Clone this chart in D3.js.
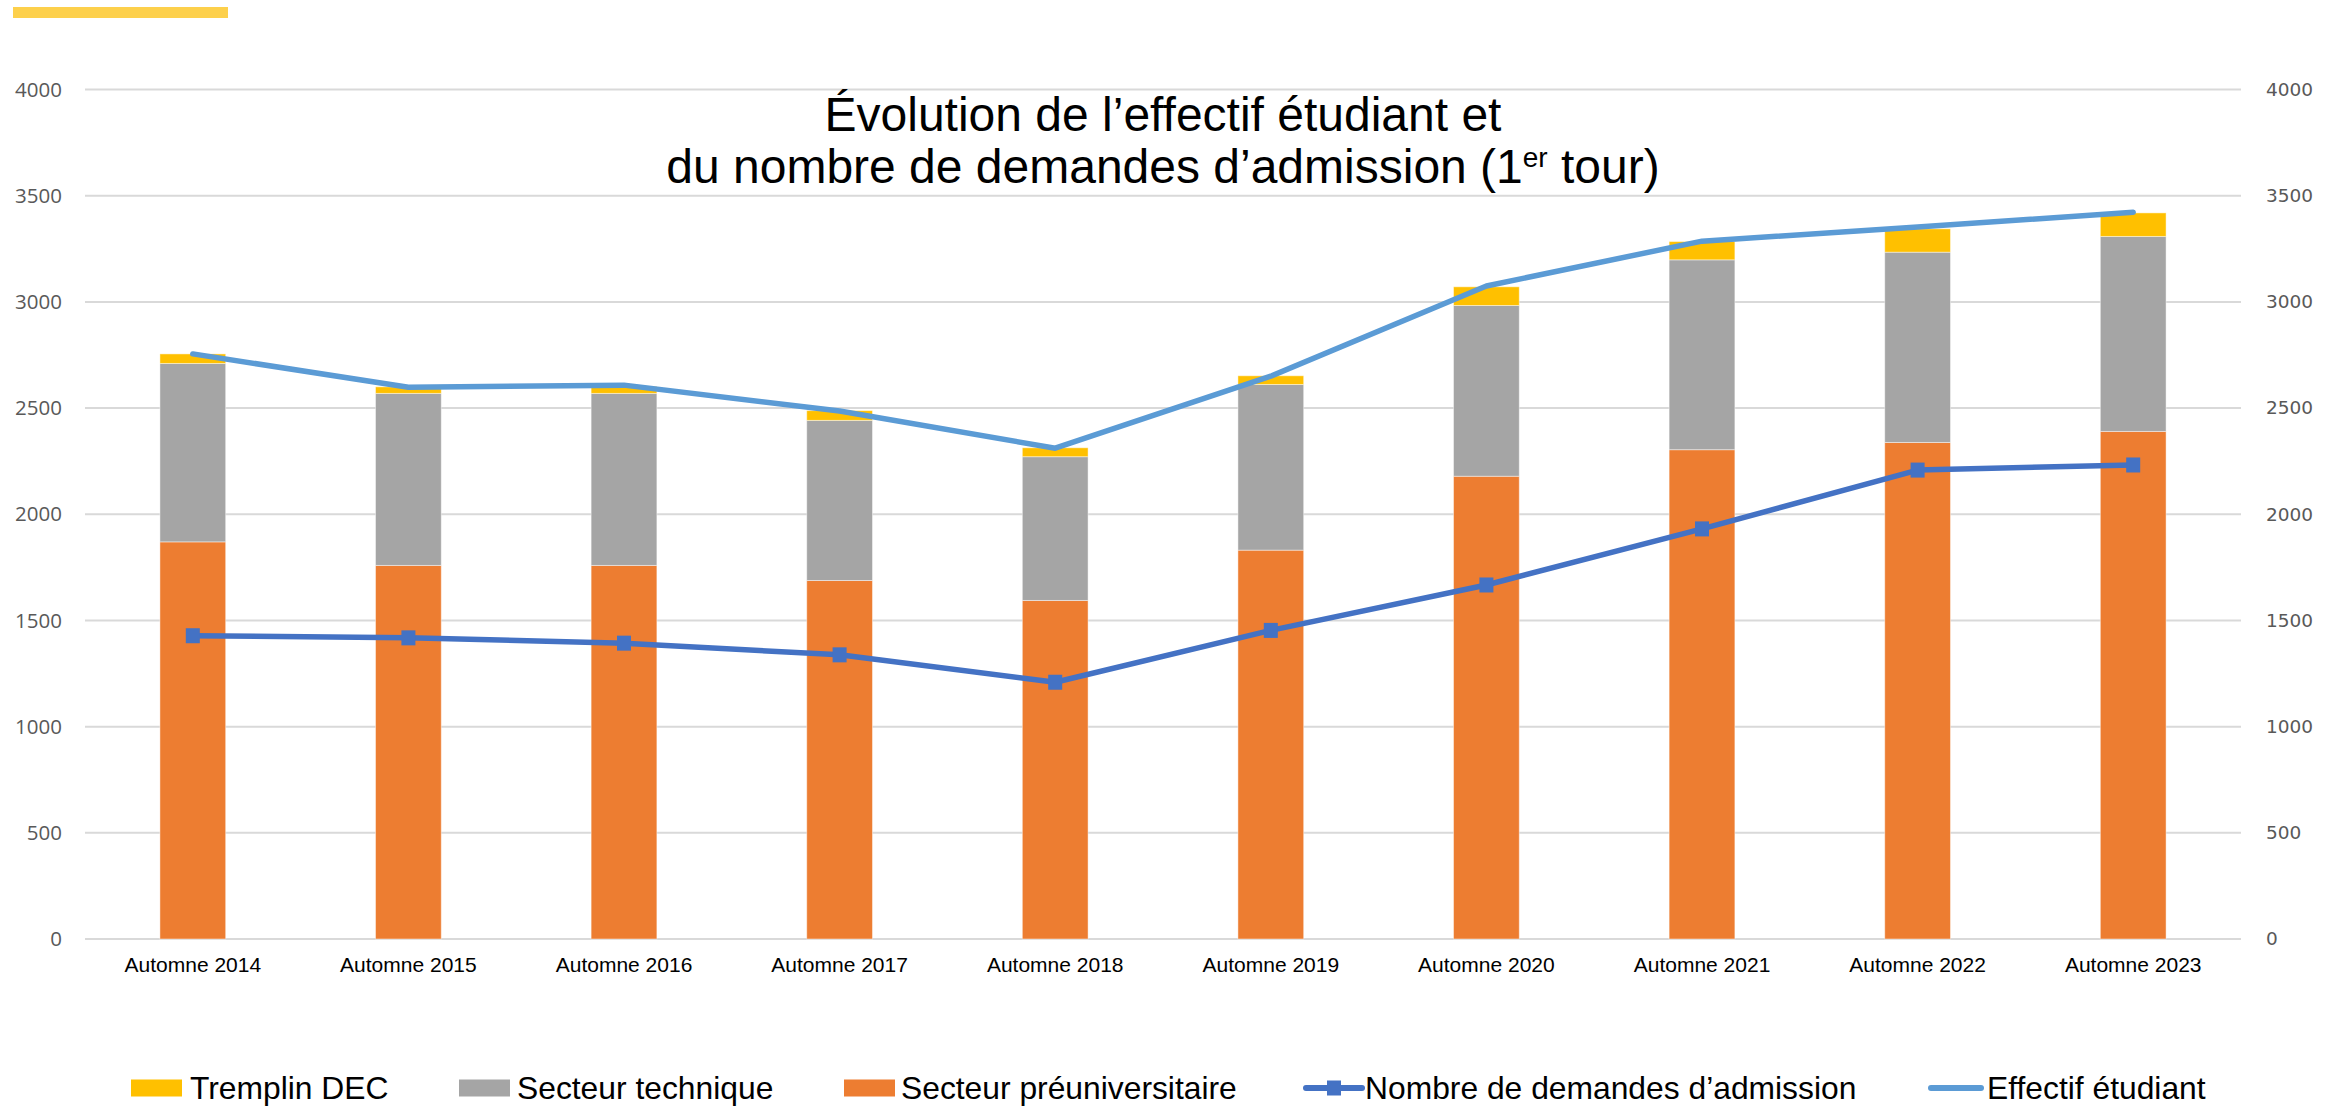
<!DOCTYPE html>
<html>
<head>
<meta charset="utf-8">
<script src="https://cdn.jsdelivr.net/npm/d3@7"></script>
<style>
  body { margin: 0; background: #fff; }
</style>
</head>
<body>
<div id="chart"></div>
<script>
// categories and series
const categories = ["Automne 2014", "Automne 2015", "Automne 2016", "Automne 2017", "Automne 2018",
  "Automne 2019", "Automne 2020", "Automne 2021", "Automne 2022", "Automne 2023"];
const preuniversitaire = [1870, 1759, 1759, 1688, 1594, 1831, 2179, 2304, 2338, 2390];
const technique = [840, 810, 810, 754, 677, 780, 804, 894, 896, 918];
const tremplin = [45, 31, 33, 46, 42, 41, 88, 86, 110, 111];
const demandes = [1428, 1418, 1393, 1338, 1209, 1453, 1667, 1931, 2208, 2232];
const effectif = [2755, 2598, 2608, 2486, 2311, 2650, 3075, 3286, 3352, 3422];
const yTicks = [0, 500, 1000, 1500, 2000, 2500, 3000, 3500, 4000];

const width = 2338;
const height = 1106;
const margin = {top: 89.5, right: 97, bottom: 167, left: 85};

const svg = d3.select("#chart").append("svg")
    .attr("width", width)
    .attr("height", height);

// small gold strip in the top left corner
svg.append("rect")
    .attr("x", 13).attr("y", 7)
    .attr("width", 215).attr("height", 11)
    .attr("fill", "#FDD04B");

const x = d3.scaleBand()
    .domain(categories)
    .range([margin.left, width - margin.right])
    .paddingInner(0.695)
    .paddingOuter(0.3475);

const y = d3.scaleLinear()
    .domain([0, 4000])
    .range([height - margin.bottom, margin.top]);

const cx = d => x(d) + x.bandwidth() / 2;

// gridlines
svg.append("g")
  .selectAll("line")
  .data(yTicks)
  .join("line")
    .attr("x1", margin.left)
    .attr("x2", width - margin.right)
    .attr("y1", d => y(d))
    .attr("y2", d => y(d))
    .attr("stroke", "#D9D9D9")
    .attr("stroke-width", 2);

// left axis
const axisLeft = svg.append("g")
    .attr("transform", `translate(${margin.left - 23},0)`)
    .call(d3.axisLeft(y).tickValues(yTicks).tickFormat(d3.format("d")).tickSize(0).tickPadding(0));
axisLeft.select(".domain").remove();
axisLeft.selectAll("text")
    .style("font-family", "'Open Sans', sans-serif")
    .style("font-size", "20.5px")
    .attr("fill", "#595959");

// right axis
const axisRight = svg.append("g")
    .attr("transform", `translate(${width - margin.right + 25},0)`)
    .call(d3.axisRight(y).tickValues(yTicks).tickFormat(d3.format("d")).tickSize(0).tickPadding(0));
axisRight.select(".domain").remove();
axisRight.selectAll("text")
    .style("font-family", "'DejaVu Sans', sans-serif")
    .style("font-size", "18.5px")
    .attr("fill", "#595959");

// category labels
const axisBottom = svg.append("g")
    .attr("transform", `translate(0,${height - margin.bottom})`)
    .call(d3.axisBottom(x).tickSize(0).tickPadding(0));
axisBottom.select(".domain").remove();
axisBottom.selectAll("text")
    .attr("dy", null)
    .attr("y", 33)
    .style("font-family", "'Liberation Sans', Arial, sans-serif")
    .style("font-size", "21px")
    .attr("fill", "#000");

// stacked bars
const rows = categories.map((c, i) => ({
  cat: c, pre: preuniversitaire[i], tech: technique[i], trem: tremplin[i]
}));
const keys = ["pre", "tech", "trem"];
const colors = {pre: "#ED7D31", tech: "#A5A5A5", trem: "#FFC000"};
const stack = d3.stack().keys(keys)(rows);

svg.append("g")
  .selectAll("g")
  .data(stack)
  .join("g")
    .attr("fill", s => colors[s.key])
  .selectAll("rect")
  .data(s => s)
  .join("rect")
    .attr("x", d => x(d.data.cat))
    .attr("width", x.bandwidth())
    .attr("y", d => y(d[1]))
    .attr("height", d => y(d[0]) - y(d[1]))
    .attr("stroke", "#fff")
    .attr("stroke-opacity", 0.45)
    .attr("stroke-width", 1);

// lines
const line = d3.line()
    .x((d, i) => cx(categories[i]))
    .y(d => y(d));

svg.append("path")
    .datum(demandes)
    .attr("d", line)
    .attr("fill", "none")
    .attr("stroke", "#4472C4")
    .attr("stroke-width", 5.5)
    .attr("stroke-linejoin", "round");

svg.append("g")
  .selectAll("rect")
  .data(demandes)
  .join("rect")
    .attr("x", (d, i) => cx(categories[i]) - 7)
    .attr("y", d => y(d) - 7.5)
    .attr("width", 14)
    .attr("height", 15)
    .attr("fill", "#4472C4");

svg.append("path")
    .datum(effectif)
    .attr("d", line)
    .attr("fill", "none")
    .attr("stroke", "#5B9BD5")
    .attr("stroke-width", 5.5)
    .attr("stroke-linejoin", "round")
    .attr("stroke-linecap", "round");

// title
const title = svg.append("text")
    .attr("text-anchor", "middle")
    .style("font-family", "'Liberation Sans', Arial, sans-serif")
    .style("font-size", "48px")
    .attr("fill", "#000");
title.append("tspan")
    .attr("x", (margin.left + width - margin.right) / 2)
    .attr("y", 131)
    .text("Évolution de l’effectif étudiant et");
const line2 = title.append("tspan")
    .attr("x", (margin.left + width - margin.right) / 2)
    .attr("y", 183);
line2.append("tspan").text("du nombre de demandes d’admission (1");
line2.append("tspan").attr("dy", -16).style("font-size", "28px").text("er");
line2.append("tspan").attr("dy", 16).text(" tour)");

// legend
const legend = svg.append("g")
    .style("font-family", "'Liberation Sans', Arial, sans-serif")
    .style("font-size", "31.8px");
const legendY = 1088;
const swatches = [
  {label: "Tremplin DEC", color: "#FFC000", x: 131, tx: 190},
  {label: "Secteur technique", color: "#A5A5A5", x: 459, tx: 517},
  {label: "Secteur préuniversitaire", color: "#ED7D31", x: 844, tx: 901}
];
legend.selectAll("rect.sw")
  .data(swatches)
  .join("rect")
    .attr("class", "sw")
    .attr("x", d => d.x)
    .attr("y", legendY - 8.5)
    .attr("width", 51)
    .attr("height", 17)
    .attr("fill", d => d.color);
legend.selectAll("text.sw")
  .data(swatches)
  .join("text")
    .attr("class", "sw")
    .attr("x", d => d.tx)
    .attr("y", legendY + 11)
    .text(d => d.label);

// line entries
legend.append("line")
    .attr("x1", 1306).attr("x2", 1362)
    .attr("y1", legendY).attr("y2", legendY)
    .attr("stroke", "#4472C4").attr("stroke-width", 6)
    .attr("stroke-linecap", "round");
legend.append("rect")
    .attr("x", 1327).attr("y", legendY - 7.5)
    .attr("width", 14).attr("height", 15)
    .attr("fill", "#4472C4");
legend.append("text")
    .attr("x", 1365).attr("y", legendY + 11)
    .text("Nombre de demandes d’admission");
legend.append("line")
    .attr("x1", 1931).attr("x2", 1981)
    .attr("y1", legendY).attr("y2", legendY)
    .attr("stroke", "#5B9BD5").attr("stroke-width", 6)
    .attr("stroke-linecap", "round");
legend.append("text")
    .attr("x", 1987).attr("y", legendY + 11)
    .text("Effectif étudiant");
</script>
</body>
</html>
